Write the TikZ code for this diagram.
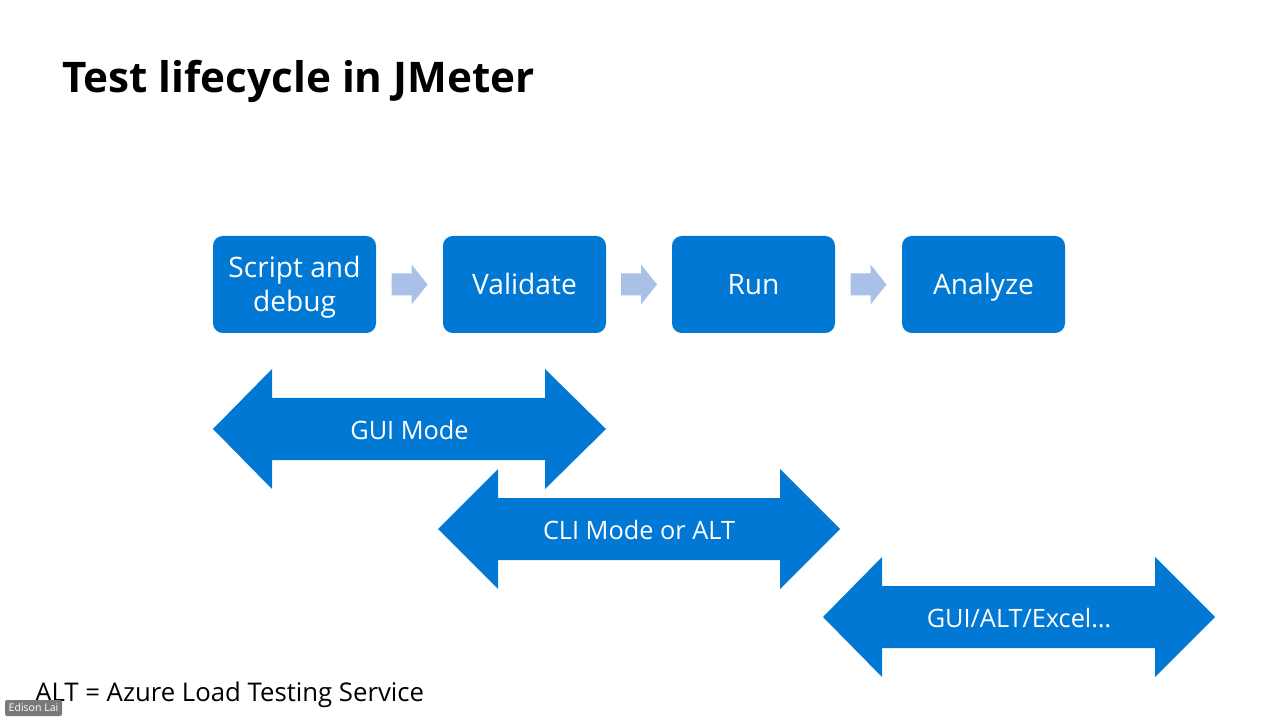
\documentclass[tikz,border=0pt]{standalone}
\usepackage{fontspec}
\setmainfont{Open Sans}
\usetikzlibrary{calc}

\definecolor{stageblue}{HTML}{0078D4}
\definecolor{flowgrey}{HTML}{A9C1E7}
\definecolor{tagGrey}{HTML}{7A7A7A}

\tikzset{
  stage/.style={fill=stageblue, rounded corners=7pt, minimum width=163*0.025cm,
    minimum height=97*0.025cm, text=white, align=center, inner sep=0pt,
    font=\fontsize{20}{24}\selectfont},
  oneline/.style={text height=18pt, text depth=4pt},
  modelabel/.style={text=white, font=\fontsize{18}{22}\selectfont, inner sep=0pt},
}

\begin{document}
\begin{tikzpicture}[x=0.025cm, y=-0.025cm]

\useasboundingbox[fill=white] (0,0) rectangle (1280,720);

% Title
\node[anchor=base west, inner sep=0pt, font=\fontsize{30}{36}\selectfont\bfseries]
  (title) at (62,93) {Test lifecycle in JMeter};

% Stages
\node[stage] (script)   at (294.5,284.5) {\rule{0pt}{21pt}Script and\\debug\strut};
\node[stage, oneline] (validate) at (524.5,284.5) {Validate};
\node[stage, oneline] (run)      at (753.5,284.5) {Run};
\node[stage, oneline] (analyze)  at (983.5,284.5) {Analyze};

% Small arrows between stages
\foreach \a/\b in {script/validate, validate/run, run/analyze}{
  \coordinate (m) at ($(\a.east)!0.5!(\b.west)$);
  \fill[flowgrey] ([shift={(-18,-11)}]m) -- ([shift={(2,-11)}]m) -- ([shift={(2,-20)}]m)
    -- ([shift={(18,0)}]m) -- ([shift={(2,20)}]m) -- ([shift={(2,11)}]m)
    -- ([shift={(-18,11)}]m) -- cycle;
}

% Mode arrows
\foreach \xl/\xa/\xb/\xr/\yc in {213/272/545/606/429, 438/498/780/840/529, 823/882/1155/1215/617}{
  \fill[stageblue] (\xl,\yc) -- (\xa,\yc-60) -- (\xa,\yc-31) -- (\xb,\yc-31) -- (\xb,\yc-60)
    -- (\xr,\yc) -- (\xb,\yc+60) -- (\xb,\yc+31) -- (\xa,\yc+31) -- (\xa,\yc+60) -- cycle;
}
\node[modelabel] (gui)   at (409.5,430) {GUI Mode};
\node[modelabel] (cli)   at (639,530)   {CLI Mode or ALT};
\node[modelabel] (excel) at (1019,618)  {GUI/ALT/Excel\dots};

% Footnote
\node[anchor=base west, inner sep=0pt, font=\fontsize{18.3}{22}\selectfont]
  (note) at (35,701) {ALT = Azure Load Testing Service};

% Speaker tag
\node[fill=tagGrey, rounded corners=1.5pt, text=white, inner sep=1pt,
  minimum width=57*0.025cm, minimum height=16*0.025cm, font=\fontsize{7.5}{9}\selectfont]
  (speaker) at (33.5,708) {Edison Lai};

\end{tikzpicture}
\end{document}
